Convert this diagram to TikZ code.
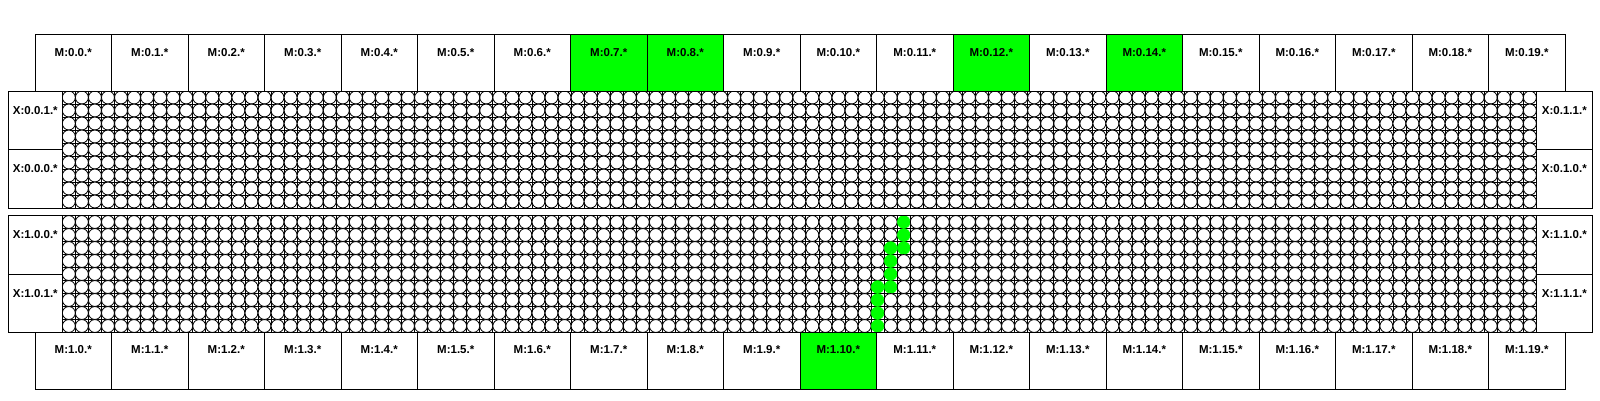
\documentclass[tikz,border=0pt]{standalone}
\usepackage{fontspec}
\setmainfont{Liberation Sans}
\begin{document}
\begin{tikzpicture}[x=1pt,y=-1pt,
  box/.style={draw=black, line width=1pt, inner sep=0pt, outer sep=0pt},
  gridbox/.style={draw=black, line width=1pt, inner sep=0pt, outer sep=0pt, minimum width=1474.4pt, minimum height=117pt, anchor=north west},
  lab/.style={font=\fontsize{11.5}{13}\selectfont\bfseries, inner sep=0pt},
  gl/.style={draw=black, line width=0.8pt},
  cell/.style={fill=white, draw=black, line width=0.8pt},
  hot/.style={fill=green, draw=green, line width=0.5pt}]
\useasboundingbox (0,0) rectangle (1600,400);
\fill[white] (0,0) rectangle (1600,400);
% cells on the routed path (grid 1)
\foreach \cc/\rr in {64/0,64/1,63/2,64/2,63/3,63/4,62/5,63/5,62/6,62/7,62/8}{
  \expandafter\gdef\csname hotc1-\cc-\rr\endcsname{}
}
% circle grids
\foreach \gy/\g in {91/0,215.5/1}{
  \foreach \i in {0,...,113} \draw[gl] ({62.3+\i*13.045},\gy) -- ++(0,117);
  \foreach \j in {0,...,9} \draw[gl] (62.3,{\gy+\j*13}) -- ++(1474.4,0);
  \foreach \i in {0,...,112}{
    \foreach \j in {0,...,8}{
      \ifcsname hotc\g-\i-\j\endcsname
        \filldraw[hot] ({62.3+(\i+0.5)*13.045},{\gy+(\j+0.5)*13}) circle [radius=6.35pt];
      \else
        \draw[cell] ({62.3+(\i+0.5)*13.045},{\gy+(\j+0.5)*13}) circle [radius=6.45pt];
      \fi
    }
  }
}
\node[gridbox] (g0) at (62.3,91) {};
\node[gridbox] (g1) at (62.3,215.5) {};
% M boxes
\foreach \i in {0,...,19}{
  \def\fc{white}
  \ifnum\i=7 \def\fc{green}\fi
  \ifnum\i=8 \def\fc{green}\fi
  \ifnum\i=12 \def\fc{green}\fi
  \ifnum\i=14 \def\fc{green}\fi
  \node[box, fill=\fc, minimum width=76.5pt, minimum height=56.7pt, anchor=north west] (mt\i) at ({35+76.5*\i},34.3) {};
  \node[lab] (mtl\i) at ([yshift=-18pt]mt\i.north) {M:0.\i.*};
}
\foreach \i in {0,...,19}{
  \def\fc{white}
  \ifnum\i=10 \def\fc{green}\fi
  \node[box, fill=\fc, minimum width=76.5pt, minimum height=56.7pt, anchor=north west] (mb\i) at ({35+76.5*\i},332.5) {};
  \node[lab] (mbl\i) at ([yshift=-17pt]mb\i.north) {M:1.\i.*};
}
% X boxes
\foreach \nm/\txt/\xx/\yy/\ww in {
  xa/X:0.0.1.*/8.3/91/54, xb/X:0.0.0.*/8.3/149.5/54,
  xc/X:1.0.0.*/8.3/215.5/54, xd/X:1.0.1.*/8.3/274/54,
  xe/X:0.1.1.*/1536.7/91/55.3, xf/X:0.1.0.*/1536.7/149.5/55.3,
  xg/X:1.1.0.*/1536.7/215.5/55.3, xh/X:1.1.1.*/1536.7/274/55.3}{
  \node[box, fill=white, minimum width=\ww pt, minimum height=58.5pt, anchor=north west] (\nm) at (\xx,\yy) {};
  \node[lab] (\nm l) at ([yshift=-19.5pt]\nm.north) {\txt};
}
\end{tikzpicture}
\end{document}
